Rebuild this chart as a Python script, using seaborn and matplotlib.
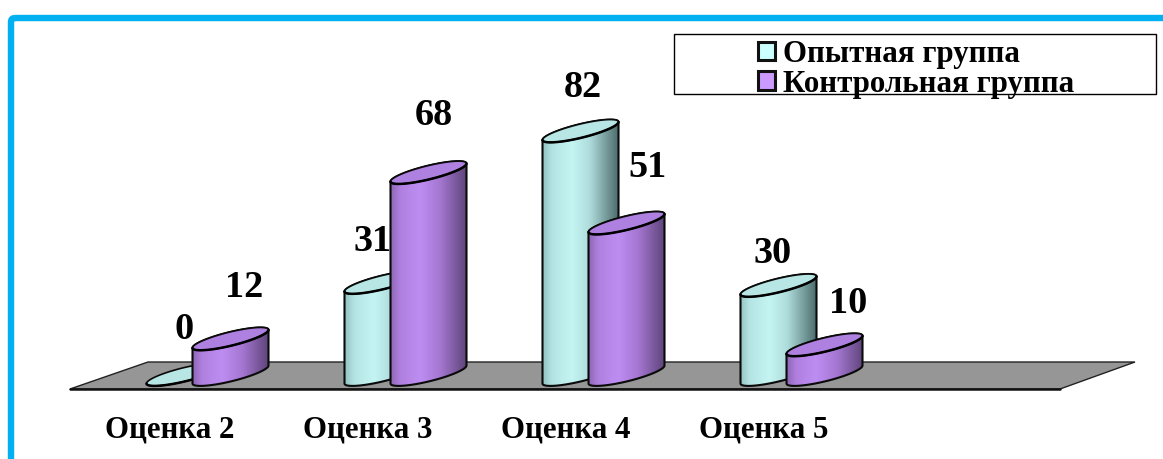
import numpy as np
import pandas as pd
import matplotlib
matplotlib.use("Agg")
import matplotlib.pyplot as plt
import seaborn as sns
from matplotlib.colors import LinearSegmentedColormap
from matplotlib.patches import PathPatch, Patch, Polygon, Rectangle, FancyBboxPatch
from matplotlib.path import Path
from matplotlib.transforms import Affine2D

# ---- data ----
grades = ["Оценка 2", "Оценка 3", "Оценка 4", "Оценка 5"]
groups = ["Опытная группа", "Контрольная группа"]
experimental = [0, 31, 82, 30]
control = [12, 68, 51, 10]

# ---- style ----
W, H = 1163, 459
SERIF = ["Liberation Serif", "DejaVu Serif"]
key_colors = ["#CCFFFF", "#CC99FF"]
top_colors = ["#B7E6E5", "#AE80E0"]
ramps = [
    [(0, "#93C4C4"), (0.12, "#B4E4E3"), (0.38, "#C4F5F3"), (0.62, "#AEDCDB"), (1, "#4C6B6B")],
    [(0, "#8F68B6"), (0.12, "#B080E0"), (0.38, "#BE8DF2"), (0.65, "#A577D2"), (1, "#5E4479")],
]
# label offsets in pixels from the bar's top tip
label_offsets = [
    [(0, 54), (-10, 50), (2, 52), (-6, 41)],
    [(14, 60), (5, 66), (21, 65), (24, 50)],
]
PX_PER_CAT = 198.0
PX_PER_VAL = 2.97
BASE_PX = 383.5
FIRST_CENTER_PX = 207.5
AX_BOTTOM_PX = 398.0
RISE_PX, BULGE_PX = 18.0, 7.0

sns.set_style("white")
plt.rcParams["font.family"] = SERIF
plt.rcParams["font.weight"] = "bold"
plt.rcParams["text.color"] = "black"

fig = plt.figure(figsize=(W / 100, H / 100), dpi=100, facecolor="white")
ax = fig.add_axes([0, 1 - AX_BOTTOM_PX / H, 1, AX_BOTTOM_PX / H])
px = Affine2D().scale(1 / W, -1 / H).translate(0, 1) + fig.transFigure

df = pd.DataFrame({
    "grade": grades * 2,
    "group": [groups[0]] * 4 + [groups[1]] * 4,
    "value": experimental + control,
})
offset_units = 46 / PX_PER_CAT
bar_units = 76 / PX_PER_CAT
sns.barplot(data=df, x="grade", y="value", hue="group", order=grades, hue_order=groups,
            palette=key_colors, width=2 * offset_units, gap=1 - bar_units / offset_units,
            legend=False, ax=ax)

xlim = (-FIRST_CENTER_PX / PX_PER_CAT, (W - FIRST_CENTER_PX) / PX_PER_CAT)
ylim = ((BASE_PX - AX_BOTTOM_PX) / PX_PER_VAL, BASE_PX / PX_PER_VAL)
R = RISE_PX / PX_PER_VAL
B = BULGE_PX / PX_PER_VAL


def arc(x, w, y, t0, t1, n=60):
    t = np.linspace(t0, t1, n)
    return np.column_stack([x + w / 2 + w / 2 * np.cos(t),
                            y + R / 2 + R / 2 * np.cos(t) + B * np.sin(t)])


# floor
ax.add_patch(Polygon([(70, 389), (148, 362), (1135, 362), (1060, 389)], closed=True,
                     transform=px, facecolor="#969696", edgecolor="#222222", lw=1.0,
                     zorder=1, clip_on=False))
ax.plot([70, 1060], [389, 389], transform=px, color="#111111", lw=1.8, zorder=1.1, clip_on=False)

for s, container in enumerate(ax.containers):
    cmap = LinearSegmentedColormap.from_list(f"c{s}", ramps[s])
    z = 3 + s
    for i, bar in enumerate(container):
        x, w, h = bar.get_x(), bar.get_width(), bar.get_height()
        bar.set_alpha(0)
        if h > 0:
            outline = np.vstack([arc(x, w, 0, np.pi, 2 * np.pi), arc(x, w, h, 0, np.pi)])
            path = Path(np.vstack([outline, outline[:1]]), closed=True)
            edge = PathPatch(path, facecolor="none", edgecolor="#0A0A0A", lw=1.5, zorder=z + 0.2)
            ax.add_patch(edge)
            im = ax.imshow(np.linspace(0, 1, 128)[None, :], extent=(x, x + w, -2 * R, h + 2 * R),
                           cmap=cmap, aspect="auto", origin="lower", zorder=z + 0.1,
                           interpolation="bilinear", vmin=0, vmax=1)
            im.set_clip_path(PathPatch(path, transform=ax.transData))
        top = arc(x, w, h, 0, 2 * np.pi, 120)
        ax.add_patch(Polygon(top, closed=True, facecolor=top_colors[s], edgecolor="#0A0A0A",
                             lw=1.2, zorder=z + 0.3))
        ax.plot(*arc(x, w, h, np.pi, 2 * np.pi).T, color="black", lw=1.8, zorder=z + 0.35)
        dx, dy = label_offsets[s][i]
        ax.annotate(f"{h:.0f}", xy=(x + w / 2, h), xytext=(dx, dy), textcoords="offset pixels",
                    ha="center", va="center", fontsize=27.5, fontweight="bold",
                    family=SERIF, color="black", zorder=3.7, annotation_clip=False)

ax.set_xlim(*xlim)
ax.set_ylim(*ylim)
ax.set_xlabel("")
ax.set_ylabel("")
ax.set_yticks([])
ax.set_xticks(np.arange(len(grades)) - 37.5 / PX_PER_CAT)
ax.set_xticklabels(grades, fontsize=22.2, fontweight="bold", family=SERIF, color="black")
ax.tick_params(axis="x", length=0, pad=12.5)
ax.patch.set_alpha(0)
sns.despine(ax=ax, left=True, bottom=True)

# blue frame
fig.add_artist(FancyBboxPatch((11, 18), 1300, 600, boxstyle="round,pad=0,rounding_size=4",
                              transform=px, facecolor="none", edgecolor="#00B0F0", lw=4.6,
                              clip_on=True))

# legend box with shadow, then the legend itself
fig.add_artist(Rectangle((675, 35), 482, 60, transform=px, facecolor="#8C8C8C", edgecolor="none"))
fig.add_artist(Rectangle((674, 34), 482, 60, transform=px, facecolor="white",
                         edgecolor="black", lw=1.0))
handles = [Patch(facecolor=c, edgecolor="#111111", lw=2.2) for c in key_colors]
leg = fig.legend(handles, groups, loc="upper left", bbox_to_anchor=(758 / W, 1 - 40 / H),
                 frameon=False, labelcolor="black",
                 prop={"family": SERIF, "weight": "bold", "size": 22.2},
                 handlelength=0.56, handleheight=0.56, handletextpad=0.24, labelspacing=0.02,
                 borderpad=0.0, borderaxespad=0)
leg.set_zorder(10)

fig.savefig("out.png", dpi=100, facecolor="white")
